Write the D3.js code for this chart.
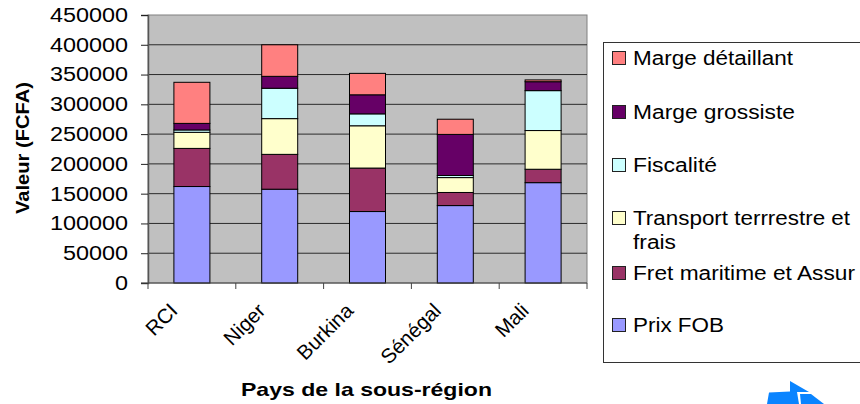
<!DOCTYPE html>
<html>
<head>
<meta charset="utf-8">
<script src="https://cdn.jsdelivr.net/npm/d3@7"></script>
<style>
  html, body { margin: 0; padding: 0; background: #fff; }
  text { font-family: "Liberation Sans", Arial, sans-serif; fill: #000; }
</style>
</head>
<body>
<svg width="860" height="404"></svg>
<script>
const categories = ["RCI", "Niger", "Burkina", "Sénégal", "Mali"];
const yTicks = [0, 50000, 100000, 150000, 200000, 250000, 300000, 350000, 400000, 450000];

// bottom to top
const seriesNames = ["Prix FOB", "Fret maritime et Assur", "Transport terrrestre et frais", "Fiscalité", "Marge grossiste", "Marge détaillant"];
const prixFob = [162000, 157500, 120000, 130000, 168500];
const fret = [64000, 58500, 73000, 22000, 22500];
const transport = [27000, 60000, 71000, 25000, 65000];
const fiscalite = [4000, 51000, 20000, 3500, 67000];
const grossiste = [11000, 20000, 32000, 69000, 15000];
const detaillant = [69000, 53000, 36000, 25500, 3000];
const colors = ["#9999ff", "#993366", "#ffffcc", "#ccffff", "#660066", "#ff8080"];

const svg = d3.select("svg");
const plot = { left: 148, right: 587, top: 15, bottom: 283 };

const x = d3.scaleBand().domain(categories).range([plot.left, plot.right]).paddingInner(0.59).paddingOuter(0.295);
const xTicks = d3.scaleLinear().domain([0, 5]).range([plot.left, plot.right]);
const y = d3.scaleLinear().domain([0, 450000]).range([plot.bottom, plot.top]);

// the picture is stretched sideways, so fit text to the width measured on it
function fit(sel, w) {
  sel.attr("textLength", w).attr("lengthAdjust", "spacingAndGlyphs");
}

// plot background
svg.append("rect")
  .attr("x", plot.left).attr("y", plot.top)
  .attr("width", plot.right - plot.left).attr("height", plot.bottom - plot.top)
  .attr("fill", "#c0c0c0").attr("stroke", "#808080");

// grid
svg.append("g").selectAll("line")
  .data(yTicks.slice(1, -1))
  .join("line")
  .attr("x1", plot.left).attr("x2", plot.right)
  .attr("y1", d => y(d)).attr("y2", d => y(d))
  .attr("stroke", "#2b2b2b");

// bars
const rows = categories.map((c, i) => ({
  cat: c,
  "Prix FOB": prixFob[i],
  "Fret maritime et Assur": fret[i],
  "Transport terrrestre et frais": transport[i],
  "Fiscalité": fiscalite[i],
  "Marge grossiste": grossiste[i],
  "Marge détaillant": detaillant[i]
}));
const stacked = d3.stack().keys(seriesNames)(rows);

svg.append("g").selectAll("g")
  .data(stacked)
  .join("g")
  .attr("fill", (d, i) => colors[i])
  .selectAll("rect")
  .data(d => d)
  .join("rect")
  .attr("x", d => x(d.data.cat))
  .attr("width", x.bandwidth())
  .attr("y", d => y(d[1]))
  .attr("height", d => y(d[0]) - y(d[1]))
  .attr("stroke", "#000")
  .attr("stroke-width", 1);

// y axis
const yAxis = svg.append("g")
  .attr("transform", `translate(${plot.left},0)`)
  .call(d3.axisLeft(y).tickValues(yTicks).tickFormat(d3.format("d")).tickSize(7).tickPadding(13));
yAxis.selectAll("line").attr("stroke", "#222");
yAxis.select(".domain").attr("stroke", "#555").attr("stroke-width", 1.5);
yAxis.selectAll("text")
  .style("font-size", "20px")
  .style("font-family", '"Liberation Sans", Arial, sans-serif')
  .each(function (d) { fit(d3.select(this), String(d).length * 13); });

// x axis, ticks sit between the bars
svg.append("line")
  .attr("x1", plot.left - 7).attr("x2", plot.right)
  .attr("y1", plot.bottom).attr("y2", plot.bottom)
  .attr("stroke", "#444");
svg.append("g").selectAll("line")
  .data(d3.range(6))
  .join("line")
  .attr("x1", d => xTicks(d)).attr("x2", d => xTicks(d))
  .attr("y1", plot.bottom).attr("y2", plot.bottom + 6)
  .attr("stroke", "#444");

svg.append("g").selectAll("text")
  .data(categories)
  .join("text")
  .attr("text-anchor", "end")
  .attr("transform", d => `translate(${x(d) + x.bandwidth() / 2 - 13},${plot.bottom + 29}) rotate(-45)`)
  .style("font-size", "20.5px")
  .text(d => d);

// axis titles
svg.append("text")
  .attr("x", 366.5).attr("y", 396)
  .attr("text-anchor", "middle")
  .style("font-size", "19px").style("font-weight", "bold")
  .text("Pays de la sous-région")
  .call(fit, 251);
svg.append("text")
  .attr("transform", "translate(29,148) rotate(-90)")
  .attr("text-anchor", "middle")
  .style("font-size", "18px").style("font-weight", "bold")
  .text("Valeur (FCFA)")
  .call(fit, 132);

// legend, top to bottom
const legendLines = [["Marge détaillant"], ["Marge grossiste"], ["Fiscalité"], ["Transport terrrestre et", "frais"], ["Fret maritime et Assur"], ["Prix FOB"]];
const legendRows = [58, 112, 165, 218, 273, 325];
const legendWidths = [[160, 0], [162, 0], [84, 0], [217, 43], [222, 0], [91, 0]];

svg.append("rect")
  .attr("x", 603.5).attr("y", 42.5)
  .attr("width", 262).attr("height", 320)
  .attr("fill", "#fff").attr("stroke", "#333");

const legend = svg.append("g").selectAll("g")
  .data(legendLines)
  .join("g")
  .attr("transform", (d, i) => `translate(612,${legendRows[i]})`);
legend.append("rect")
  .attr("x", 0.5).attr("y", -6.5)
  .attr("width", 13).attr("height", 13)
  .attr("fill", (d, i) => colors[colors.length - 1 - i])
  .attr("stroke", "#222");
legend.each(function (lines, i) {
  lines.forEach((line, j) => {
    d3.select(this).append("text")
      .attr("x", 21).attr("y", 7 + j * 24)
      .style("font-size", "20px")
      .text(line)
      .call(fit, legendWidths[i][j]);
  });
});

// bit of blue arrow logo cut off by the bottom edge
svg.append("path")
  .attr("d", d3.line()([[767, 404], [769, 392.5], [790, 391.5], [790, 381], [809, 392], [797, 392], [799, 404]]))
  .attr("fill", "#0a84ff");
svg.append("path")
  .attr("d", d3.line()([[800, 394], [811, 394], [824, 404], [801, 404]]))
  .attr("fill", "#0a84ff");
</script>
</body>
</html>
